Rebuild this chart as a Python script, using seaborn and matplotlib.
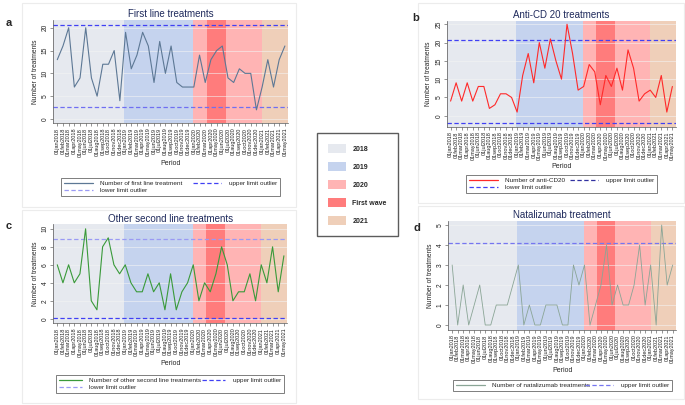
import numpy as np
import pandas as pd
import matplotlib
matplotlib.use('Agg')
import matplotlib.pyplot as plt
import seaborn as sns
from matplotlib.lines import Line2D
from matplotlib.patches import Patch, Rectangle

sns.set_style('white')
plt.rcParams['font.family'] = ['Liberation Sans', 'DejaVu Sans']

# monthly periods jan 2018 - may 2021
months = pd.date_range('2018-01-01', '2021-05-01', freq='MS')
month_labels = ['01' + d.strftime('%b').lower() + d.strftime('%Y') for d in months]

first_line = [13, 16, 20, 7, 9, 20, 9, 5, 12, 12, 15, 4,
              19, 11, 14, 19, 16, 8, 17, 10, 16, 8, 7, 7,
              7, 14, 8, 13, 15, 16, 9, 8, 11, 10, 10, 2,
              7, 13, 7, 13, 16]
anti_cd20 = [4, 9, 4, 9, 4, 8, 8, 2, 3, 6, 6, 5,
             1, 11, 17, 9, 20, 13, 21, 15, 10, 25, 17, 7,
             8, 14, 12, 3, 11, 8, 13, 7, 18, 13, 4, 6,
             7, 5, 11, 1, 8]
other_second = [6, 4, 6, 4, 5, 10, 2, 1, 8, 9, 6, 5,
                6, 4, 3, 3, 5, 3, 4, 1, 5, 1, 3, 4,
                6, 2, 4, 3, 5, 8, 6, 2, 3, 3, 5, 2,
                6, 4, 8, 3, 7]
natalizumab = [3, 0, 2, 0, 1, 2, 0, 0, 1, 1, 1, 2,
               3, 0, 1, 0, 0, 1, 1, 1, 0, 0, 3, 2,
               3, 0, 1, 2, 4, 1, 2, 1, 1, 2, 4, 1,
               3, 0, 5, 2, 3]

# outlier limits (upper, lower)
first_line_limits = [20.6, 2.6]
anti_cd20_limits = [20.6, -1.9]
other_second_limits = [8.9, 0.1]
natalizumab_limits = [4.1]

# background periods
period_names = ['2018', '2019', '2020', 'First wave', '2021']
period_colors = ['#e6e9ef', '#c5d3ee', '#ffb4b4', '#ff7c7c', '#efcfb9']
period_edges = [-0.7, 11.8, 23.9, 26.3, 29.6, 36.0, 40.6]
period_order = [0, 1, 2, 3, 2, 4]

DARK = '#4040f4'
LIGHT = '#9a9af4'

W, H = 685, 405
fig = plt.figure(figsize=(6.85, 4.05), dpi=100)


def fbox(x0, y0, x1, y1):
    return [x0 / W, 1 - y1 / H, (x1 - x0) / W, (y1 - y0) / H]


# faint panel frames
for x0, y0, x1, y1 in [(22, 3, 296, 207), (22, 210, 296, 403),
                       (418, 3, 684, 203), (418, 206, 684, 399)]:
    fig.patches.append(Rectangle((x0 / W, 1 - y1 / H), (x1 - x0) / W, (y1 - y0) / H,
                                 transform=fig.transFigure, fill=False,
                                 edgecolor='#ececec', lw=0.8))

DASH = (0, (3.5, 2))


def panel(box, values, color, title, letter, letter_xy, ylim, yticks,
          limits, limit_colors, leg_colors, leg_labels, leg_box, leg_order,
          lw=0.8, hlen=4.5, cspace=1.0):
    ax = fig.add_axes(fbox(*box))
    for i, k in enumerate(period_order):
        ax.axvspan(period_edges[i], period_edges[i + 1], color=period_colors[k], lw=0, zorder=0)
    for yt in yticks:
        ax.axhline(yt, color='#f4f4f4', lw=0.4, zorder=1)
    df = pd.DataFrame({'t': np.arange(len(values)), 'n': values})
    sns.lineplot(data=df, x='t', y='n', ax=ax, color=color, lw=lw, zorder=3)
    handles = [Line2D([], [], color=color, lw=0.9)]
    for lim, lc, hc in zip(limits, limit_colors, leg_colors):
        ax.axhline(lim, color=lc, lw=0.9, ls=DASH, zorder=2)
        handles.append(Line2D([], [], color=hc, lw=0.9, ls=DASH))
    ax.set_xlim(period_edges[0], period_edges[-1])
    ax.set_ylim(*ylim)
    ax.set_xticks(np.arange(len(values)))
    ax.set_xticklabels(month_labels, rotation=90, fontsize=4.0, color='#222')
    ax.set_yticks(yticks)
    ax.set_yticklabels([str(v) for v in yticks], rotation=90, va='center', fontsize=4.8, color='#222')
    ax.tick_params(axis='both', length=2, width=0.4, color='#444', pad=1.2, bottom=True, left=True)
    for s in ['top', 'right']:
        ax.spines[s].set_visible(False)
    for s in ['left', 'bottom']:
        ax.spines[s].set_color('#555')
        ax.spines[s].set_linewidth(0.5)
    ax.set_xlabel('Period', fontsize=5, labelpad=2.5)
    ax.set_ylabel('Number of treatments', fontsize=4.8, labelpad=2)
    ax.set_title(title, fontsize=7, color='#1f2a5c', pad=2)
    fig.text(letter_xy[0] / W, 1 - letter_xy[1] / H, letter, fontsize=8,
             fontweight='bold', ha='left', va='center')
    hs = [handles[i] for i in leg_order]
    ls = [leg_labels[i] for i in leg_order]
    x0, y0, x1, y1 = leg_box
    leg = ax.legend(hs, ls, ncol=2, loc='center', mode='expand',
                    bbox_to_anchor=(x0 / W, 1 - y1 / H, (x1 - x0) / W, (y1 - y0) / H),
                    bbox_transform=fig.transFigure, fontsize=4.6, frameon=True,
                    fancybox=False, edgecolor='#444', handlelength=hlen,
                    labelspacing=0.3, borderpad=0.4, columnspacing=cspace, handletextpad=1.2)
    leg.get_frame().set_linewidth(0.6)
    return ax


panel((53.3, 20, 288.3, 123.3), first_line, '#5d7895', 'First line treatments', 'a', (6, 23),
      (-0.95, 21.7), [0, 5, 10, 15, 20], first_line_limits, [DARK, '#6f6ff2'], [DARK, LIGHT],
      ['Number of first line treatment', 'upper limit outlier', 'lower limit outlier'],
      (58, 175, 283, 199), [0, 2, 1])

panel((446.7, 21, 675.7, 126.7), anti_cd20, '#ff2a2a', 'Anti-CD 20 treatments', 'b', (412, 18),
      (-3.0, 25.9), [0, 5, 10, 15, 20, 25], anti_cd20_limits, [DARK, DARK], ['#3030a0', DARK],
      ['Number of anti-CD20', 'upper limit outlier', 'lower limit outlier'],
      (463, 172, 660, 196), [0, 2, 1])

panel((53.3, 224.3, 287.3, 323.3), other_second, '#3a9a3a', 'Other second line treatments', 'c', (6, 226),
      (-0.5, 10.5), [0, 2, 4, 6, 8, 10], other_second_limits, [LIGHT, DARK], [DARK, LIGHT],
      ['Number of other second line treatments', 'upper limit outlier', 'lower limit outlier'],
      (53, 372, 287, 396), [0, 2, 1], hlen=3.6, cspace=0.3)

panel((448.3, 221, 676, 330), natalizumab, '#8aa596', 'Natalizumab treatment', 'd', (414, 228),
      (-0.25, 5.2), [0, 1, 2, 3, 4, 5], natalizumab_limits, ['#7676f0'], ['#7676f0'],
      ['Number of natalizumab treatments', 'upper limit outlier'],
      (450, 378, 675, 393), [0, 1], lw=0.6)

# shared period legend
leg_handles = [Patch(facecolor=c, edgecolor='none') for c in period_colors]
fig.legend(leg_handles, period_names, loc='center',
           bbox_to_anchor=(357.5 / W, 1 - 184.5 / H), prop={'size': 5, 'weight': 'bold'},
           frameon=True, fancybox=False, edgecolor='#333', handlelength=2.6,
           handleheight=1.6, labelspacing=1.3, borderpad=1.6, handletextpad=0.9)

fig.savefig('out.png', dpi=100)
